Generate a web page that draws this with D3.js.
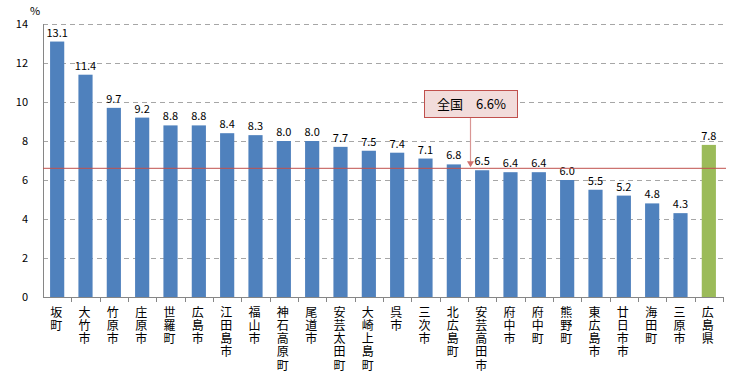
<!DOCTYPE html>
<html><head><meta charset="utf-8">
<script src="https://cdn.jsdelivr.net/npm/d3@7"></script>
<style>body{margin:0;background:#fff}svg{display:block}text{font-family:"Noto Sans CJK JP","DejaVu Sans",sans-serif}</style>
</head><body>
<script>
const categories = ["坂町","大竹市","竹原市","庄原市","世羅町","広島市","江田島市","福山市","神石高原町","尾道市","安芸太田町","大崎上島町","呉市","三次市","北広島町","安芸高田市","府中市","府中町","熊野町","東広島市","廿日市市","海田町","三原市","広島県"];
const values = [13.1,11.4,9.7,9.2,8.8,8.8,8.4,8.3,8.0,8.0,7.7,7.5,7.4,7.1,6.8,6.5,6.4,6.4,6.0,5.5,5.2,4.8,4.3,7.8];
const yTicks = [0,2,4,6,8,10,12,14];
const nationalValue = 6.6;
const nationalLabel = "全国　6.6%";

const W = 756, H = 379;
const m = {left:43, right:33, top:24, bottom:82};
const svg = d3.select("body").append("svg").attr("width",W).attr("height",H);
const x = d3.scaleBand().domain(categories).range([m.left, W-m.right]).paddingInner(0.5).paddingOuter(0.25);
const xb = d3.scaleBand().domain(categories).range([m.left, W-m.right]);
const y = d3.scaleLinear().domain([0,14]).range([H-m.bottom, m.top]);

// gridlines
svg.append("g").selectAll("line").data(yTicks.filter(d=>d>0)).join("line")
  .attr("x1",m.left).attr("x2",W-m.right).attr("y1",d=>y(d)+0.5).attr("y2",d=>y(d)+0.5)
  .attr("stroke","#a6a6a6").attr("stroke-dasharray","5,4");

// y labels
svg.append("g").selectAll("text").data(yTicks).join("text")
  .attr("x",28).attr("y",d=>y(d)+4).attr("text-anchor","end").attr("font-size",11).attr("fill","#000").text(d=>d);
svg.append("text").attr("x",30).attr("y",15).attr("font-size",11).text("%");

// bars
svg.append("g").selectAll("rect").data(values).join("rect")
  .attr("x",(d,i)=>x(categories[i])).attr("width",x.bandwidth())
  .attr("y",d=>y(d)).attr("height",d=>y(0)-y(d))
  .attr("fill",(d,i)=>i===categories.length-1?"#9bbb59":"#4f81bd");

// value labels
svg.append("g").selectAll("text").data(values).join("text")
  .attr("x",(d,i)=>x(categories[i])+x.bandwidth()/2).attr("y",d=>y(d)-5)
  .attr("text-anchor","middle").attr("font-size",11).text(d=>d.toFixed(1));

// axes
svg.append("line").attr("x1",m.left+0.5).attr("x2",m.left+0.5).attr("y1",y(14)).attr("y2",y(0)).attr("stroke","#868686");
svg.append("line").attr("x1",m.left).attr("x2",W-m.right).attr("y1",y(0)+0.5).attr("y2",y(0)+0.5).attr("stroke","#868686");
svg.append("g").selectAll("line").data(categories).join("line")
  .attr("x1",d=>Math.round(xb(d)+xb.bandwidth())+0.5).attr("x2",d=>Math.round(xb(d)+xb.bandwidth())+0.5)
  .attr("y1",y(0)).attr("y2",y(0)+5).attr("stroke","#868686");

// x labels vertical
svg.append("g").selectAll("text").data(categories).join("text")
  .attr("font-size",12)
  .style("writing-mode","vertical-rl").style("text-orientation","upright")
  .attr("letter-spacing",1.3)
  .attr("x",d=>xb(d)+xb.bandwidth()/2 - 1).attr("y",y(0)+9)
  .text(d=>d);

// national line
svg.append("line").attr("x1",m.left).attr("x2",W-m.right+3).attr("y1",y(nationalValue)).attr("y2",y(nationalValue))
  .attr("stroke","#c0504d").attr("stroke-width",1);

// annotation
const bx=424, by=90, bw=93, bh=27;
const ax = bx+bw/2;
svg.append("line").attr("x1",ax).attr("x2",ax).attr("y1",by+bh).attr("y2",y(nationalValue)-6).attr("stroke","#d99694").attr("stroke-width",1.2);
svg.append("path").attr("d",`M${ax-3.5},${y(nationalValue)-7}L${ax+3.5},${y(nationalValue)-7}L${ax},${y(nationalValue)-1}Z`).attr("fill","#d0706d");
svg.append("rect").attr("x",bx+0.5).attr("y",by+0.5).attr("width",bw).attr("height",bh)
  .attr("fill","#f2dcdb").attr("stroke","#c0504d");
svg.append("text").attr("x",bx+bw/2+1).attr("y",by+19).attr("text-anchor","middle").attr("font-size",13).text(nationalLabel);
</script>
</body></html>
